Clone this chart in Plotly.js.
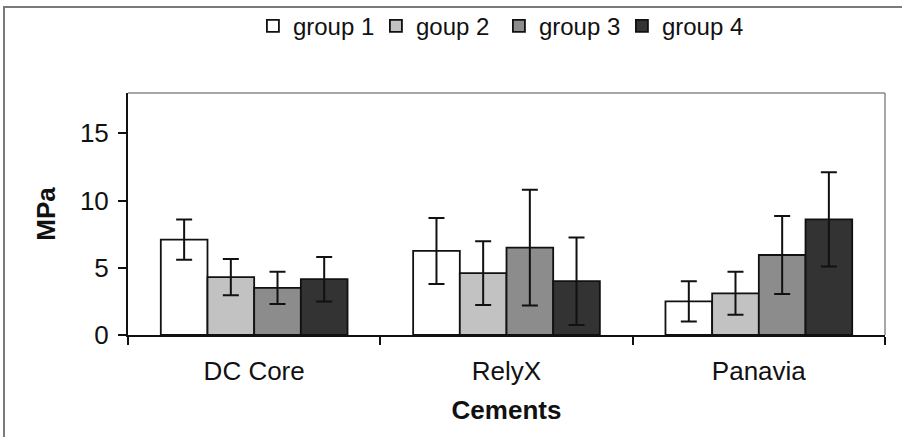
<!DOCTYPE html>
<html>
<head>
<meta charset="utf-8">
<script src="https://cdn.plot.ly/plotly-3.0.1.min.js"></script>
<style>
  html, body { margin: 0; padding: 0; background: #fff; }
  #wrap { position: relative; width: 902px; height: 437px; }
  #chart { width: 902px; height: 437px; }
  #frame { position: absolute; left: 3px; top: 6px; right: -2px; bottom: -2px;
           border-top: 2px solid #7a7a7a; border-left: 2px solid #7a7a7a; pointer-events: none; }
</style>
</head>
<body>
<div id="wrap">
  <div id="chart"></div>
  <div id="frame"></div>
</div>
<script>
const categories = ["DC Core", "RelyX", "Panavia"];
const seriesNames = ["group 1", "goup 2", "group 3", "group 4"];
const group1 = [7.1, 6.25, 2.5];
const group1Err = [1.5, 2.45, 1.5];
const group2 = [4.3, 4.6, 3.1];
const group2Err = [1.35, 2.37, 1.6];
const group3 = [3.5, 6.5, 5.95];
const group3Err = [1.2, 4.3, 2.9];
const group4 = [4.15, 4.0, 8.6];
const group4Err = [1.65, 3.25, 3.5];
const yTicks = [0, 5, 10, 15];

const values = [group1, group2, group3, group4];
const errors = [group1Err, group2Err, group3Err, group4Err];
const fills = ["#ffffff", "#c2c2c2", "#8c8c8c", "#333333"];

const FONT = "Liberation Sans, Arial, sans-serif";

const traces = values.map((v, i) => ({
  type: "bar",
  name: seriesNames[i],
  x: categories,
  y: v,
  marker: { color: fills[i], line: { color: "#111", width: 1.8 } },
  error_y: { type: "data", array: errors[i], visible: true, color: "#111", thickness: 2, width: 8 }
}));

const layout = {
  width: 902, height: 437,
  margin: { l: 128, r: 17, t: 93, b: 102 },
  paper_bgcolor: "#fff", plot_bgcolor: "#fff",
  barmode: "group", bargap: 0.26, bargroupgap: 0,
  font: { family: FONT, color: "#111", size: 25 },
  showlegend: true,
  legend: {
    orientation: "h", x: 0.49, xanchor: "center", y: 0.94, yanchor: "middle",
    xref: "paper", yref: "container",
    font: { family: FONT, size: 24, color: "#111" },
    itemwidth: 30, entrywidth: 78, entrywidthmode: "pixels",
    traceorder: "normal", itemclick: false
  },
  xaxis: {
    type: "category",
    showline: true, linecolor: "#111", linewidth: 2,
    ticks: "outside", ticklen: 8, tickwidth: 2, tickcolor: "#111",
    tickson: "boundaries",
    showgrid: false, zeroline: false,
    tickfont: { family: FONT, size: 26, color: "#111" },
    ticklabelstandoff: 12,
    title: { text: "<b>Cements</b>", font: { family: FONT, size: 26, color: "#111" }, standoff: 16 }
  },
  yaxis: {
    range: [0, 18],
    tickvals: yTicks,
    showline: true, linecolor: "#111", linewidth: 2,
    ticks: "outside", ticklen: 8, tickwidth: 2, tickcolor: "#111",
    showgrid: false, zeroline: false,
    tickfont: { family: FONT, size: 26, color: "#111" },
    ticklabelstandoff: 4,
    title: { text: "<b>MPa</b>", font: { family: FONT, size: 26, color: "#111" }, standoff: 17 }
  },
  shapes: [
    { type: "line", xref: "paper", yref: "paper", x0: 0, x1: 1, y0: 1, y1: 1, line: { color: "#8a8a8a", width: 1.5 } },
    { type: "line", xref: "paper", yref: "paper", x0: 1, x1: 1, y0: 0, y1: 1, line: { color: "#8a8a8a", width: 1.5 } }
  ]
};

Plotly.newPlot("chart", traces, layout, { displayModeBar: false, staticPlot: true });
</script>
</body>
</html>
